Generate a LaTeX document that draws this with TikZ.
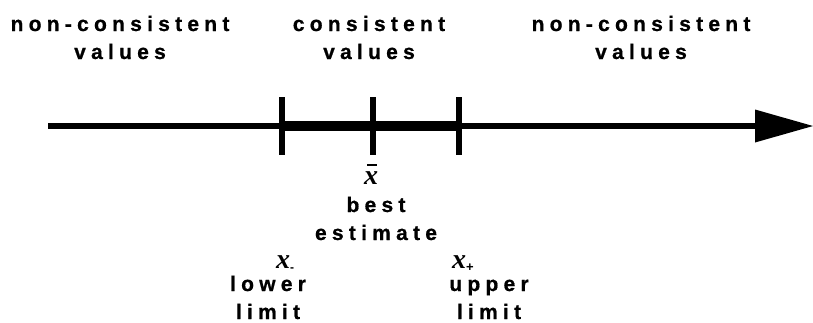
\documentclass[tikz,border=0pt]{standalone}
\usepackage{fontspec}
\setmainfont{Liberation Sans}
\newfontfamily\lblfont[LetterSpace=25,FakeBold=0.8]{Liberation Sans Bold}
\newfontfamily\xfont{Liberation Serif Bold Italic}
\usetikzlibrary{arrows.meta}
\newcommand{\bxv}{{\xfont x}}
\newcommand{\bxbar}{\rlap{\kern3pt\rule[18pt]{10pt}{1.8pt}}\bxv}
\tikzset{
  lbl/.style={font=\lblfont\fontsize{21}{28}\selectfont, align=center, inner sep=0pt, anchor=base},
  mathlbl/.style={font=\fontsize{28}{28}\selectfont, inner sep=0pt, anchor=base},
  axisline/.style={line width=6.5pt, -{Triangle[length=58pt,width=33pt,line width=0pt]}},
  thickseg/.style={line width=10pt},
  tickline/.style={line width=6pt}
}
\begin{document}
\begin{tikzpicture}[x=1pt,y=-1pt]
\useasboundingbox (0,0) rectangle (813,322);
% axis
\coordinate (s) at (48,126);
\coordinate (e) at (813,126);
\coordinate (lo) at (282,126);
\coordinate (mid) at (373,126);
\coordinate (hi) at (459,126);
\draw[axisline] (s) -- (e);
\draw[thickseg] (lo) -- (hi);
\foreach \p in {lo,mid,hi}
  \draw[tickline] ([yshift=29pt]\p) -- ([yshift=-29pt]\p);
% top labels (anchored at baseline of last line)
\node[lbl] (tl) at (120,59) {non-consistent\\values};
\node[lbl] (tm) at (369,59) {consistent\\values};
\node[lbl] (tr) at (641,59) {non-consistent\\values};
% best estimate
\node[mathlbl] (xb) at (371,184) {\bxbar};
\node[lbl] (be) at (376,240) {best\\estimate};
% lower limit
\node[mathlbl] (xm) at (285,268) {\bxv\raisebox{-3pt}{\fontsize{12}{12}\selectfont\bfseries -}};
\node[lbl] (ll) at (268,319) {lower\\limit};
% upper limit
\node[mathlbl] (xp) at (463,268) {\bxv\raisebox{-3pt}{\fontsize{13}{13}\selectfont\bfseries +}};
\node[lbl] (ul) at (489,319) {upper\\limit};
\end{tikzpicture}
\end{document}
